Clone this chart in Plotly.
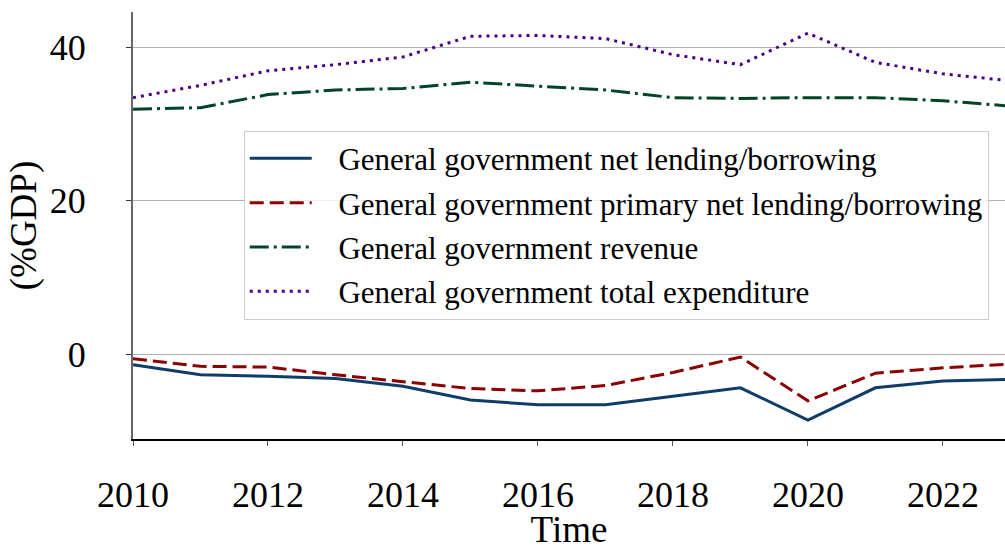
import plotly.graph_objects as go

years = list(range(2010, 2024))
net_lending = [-1.4, -2.7, -2.9, -3.2, -4.2, -6.0, -6.6, -6.6, -5.5, -4.4, -8.6, -4.4, -3.5, -3.3]
primary_net_lending = [-0.6, -1.6, -1.7, -2.7, -3.6, -4.5, -4.8, -4.1, -2.4, -0.4, -6.1, -2.5, -1.8, -1.3]
revenue = [31.9, 32.1, 33.8, 34.4, 34.6, 35.4, 34.9, 34.4, 33.4, 33.3, 33.4, 33.4, 33.0, 32.3]
expenditure = [33.4, 35.0, 36.9, 37.7, 38.7, 41.4, 41.5, 41.1, 39.0, 37.7, 41.8, 38.0, 36.5, 35.6]

names = [
    "General government net lending/borrowing",
    "General government primary net lending/borrowing",
    "General government revenue",
    "General government total expenditure",
]
series = [net_lending, primary_net_lending, revenue, expenditure]
colors = ["#0f3d68", "#8b0000", "#004526", "#4b0082"]
dashes = ["solid", "14px,6px", "19px,5px,3px,5px", "3px,5px"]

xtick_vals = [2010, 2012, 2014, 2016, 2018, 2020, 2022]
ytick_vals = [0, 20, 40]

FONT = "Liberation Serif"

fig = go.Figure()
for i, (nm, ys, c, d) in enumerate(zip(names, series, colors, dashes)):
    fig.add_trace(go.Scatter(
        x=years, y=ys, mode="lines", name="\u2002\u2009" + nm,
        line=dict(color=c, width=3, dash=d),
        legendgroup=f"g{i}",
    ))

fig.update_layout(
    width=1005, height=550,
    margin=dict(l=133, r=0, t=12, b=111),
    paper_bgcolor="white", plot_bgcolor="white",
    font=dict(family=FONT, color="black", size=36),
    showlegend=True,
    legend=dict(
        x=0.127, y=0.722, xanchor="left", yanchor="top",
        bgcolor="rgba(255,255,255,0.8)", bordercolor="#cccccc", borderwidth=1,
        font=dict(family=FONT, size=31, color="black"),
        itemwidth=62, tracegroupgap=1,
    ),
    xaxis=dict(
        range=[2010, 2022.92], tickvals=xtick_vals, ticktext=[str(v) for v in xtick_vals],
        showgrid=False, zeroline=False, automargin=False,
        showline=True, linecolor="black", linewidth=1.5,
        ticks="outside", ticklen=5, tickcolor="#555555", tickwidth=1,
        ticklabelstandoff=18,
        tickfont=dict(size=36),
        title=dict(text="Time", font=dict(size=37), standoff=12),
    ),
    yaxis=dict(
        range=[-11.07, 44.56], tickvals=ytick_vals, ticktext=[str(v) for v in ytick_vals],
        showgrid=True, gridcolor="#b0b0b0", gridwidth=1, zeroline=False, automargin=False,
        showline=True, linecolor="#666666", linewidth=2,
        ticks="outside", ticklen=5, tickcolor="#333333", tickwidth=1,
        ticklabelstandoff=33,
        tickfont=dict(size=36),
        title=dict(text="(%GDP)", font=dict(size=37), standoff=2),
    ),
)

fig.write_html(
    "out.html",
    config={"displayModeBar": False},
    post_script="document.body.style.margin='0';document.body.style.overflow='hidden';",
)
